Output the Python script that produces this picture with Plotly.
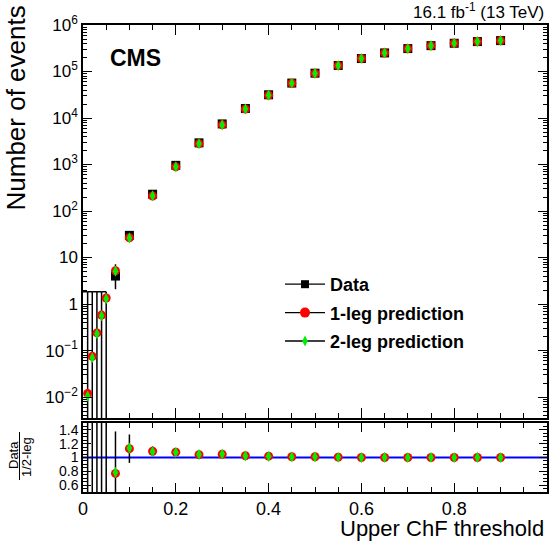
import numpy as np
import plotly.graph_objects as go

# ---------------- data ----------------
threshold = [0.01, 0.02, 0.03, 0.04, 0.05, 0.07, 0.10, 0.15, 0.20, 0.25, 0.30,
             0.35, 0.40, 0.45, 0.50, 0.55, 0.60, 0.65, 0.70, 0.75, 0.80, 0.85, 0.90]
data_events = [0, 0, 0, 0, 0, 4, 30, 230, 960, 2925, 7470,
               16000, 31600, 56400, 92000, 134600, 190000, 251000, 311000, 360000,
               405000, 440000, 462000]
pred_1leg = [0.012, 0.075, 0.24, 0.58, 1.35, 5.2, 26.6, 211, 891, 2810, 7130,
             15600, 31000, 55800, 91000, 134000, 190000, 251000, 311000, 360000,
             405000, 440000, 462000]
pred_2leg = [0.0105, 0.07, 0.23, 0.56, 1.3, 5.1, 26.4, 212, 893, 2800, 7120,
             15650, 31050, 55900, 91100, 134100, 190200, 250800, 311200, 359800,
             405300, 439800, 462300]
# 68% Poisson (Garwood) intervals for small counts
garwood = {0: (0.0, 1.841), 1: (0.173, 3.300), 2: (0.708, 4.638),
           3: (1.367, 5.918), 4: (2.086, 7.163)}

y_main_ticks = [1e-2, 1e-1, 1, 10, 1e2, 1e3, 1e4, 1e5, 1e6]
y_main_text = ["10<sup>−2</sup>", "10<sup>−1</sup>", "1", "10", "10<sup>2</sup>",
               "10<sup>3</sup>", "10<sup>4</sup>", "10<sup>5</sup>", "10<sup>6</sup>"]
y_ratio_ticks = [0.6, 0.8, 1.0, 1.2, 1.4]
y_ratio_text = ["0.6", "0.8", "1", "1.2", "1.4"]
main_range = [-2.45, 6]
ratio_range = [0.5, 1.5]

# ---------------- derived ----------------
x = np.array(threshold)
n = np.array(data_events, dtype=float)
p1 = np.array(pred_1leg)
p2 = np.array(pred_2leg)
err_lo = np.array([v - garwood[int(v)][0] if v in garwood else np.sqrt(v) for v in n])
err_hi = np.array([garwood[int(v)][1] - v if v in garwood else np.sqrt(v) for v in n])
nz = n > 0
zero = ~nz

ratio1 = np.where(nz, n / p1, np.nan)
ratio2 = np.where(nz, n / p2, np.nan)
r_err_lo = err_lo / p1
r_err_hi = err_hi / p1

FONT = "Liberation Sans, Arial, Helvetica, sans-serif"
RED, GREEN, BLUE = "#ff0000", "#00ee00", "#0000ff"

fig = go.Figure()

# zero-count bins: upper Poisson error combs
zx, zy = [], []
prev = [0.0] + threshold[:-1]
for xi, xp, hi in zip(x[zero], np.array(prev)[zero], err_hi[zero]):
    zx += [xi, xi, None, xp, xi, None]
    zy += [10 ** (main_range[0] - 1), hi, None, hi, hi, None]
fig.add_trace(go.Scatter(x=zx, y=zy, mode="lines", line=dict(color="black", width=1.5),
                         showlegend=False, hoverinfo="skip", xaxis="x", yaxis="y"))

# data
fig.add_trace(go.Scatter(
    x=x[nz], y=n[nz], mode="markers",
    marker=dict(symbol="square", size=9, color="black"),
    error_y=dict(type="data", symmetric=False, array=err_hi[nz], arrayminus=err_lo[nz],
                 color="black", thickness=1.5, width=0),
    showlegend=False, xaxis="x", yaxis="y"))
fig.add_trace(go.Scatter(x=x, y=p1, mode="markers",
                         marker=dict(symbol="circle", size=9, color=RED),
                         showlegend=False, xaxis="x", yaxis="y"))
fig.add_trace(go.Scatter(x=x, y=p2, mode="markers",
                         marker=dict(symbol="diamond-tall", size=8, color=GREEN),
                         showlegend=False, xaxis="x", yaxis="y"))

# legend entries
for name, sym, col, sz, grp in [("Data", "square", "black", 8, "a"),
                                ("1-leg prediction", "circle", RED, 10, "b"),
                                ("2-leg prediction", "diamond-tall", GREEN, 8, "c")]:
    fig.add_trace(go.Scatter(x=[None], y=[None], mode="lines+markers", name=name,
                             legendgroup=grp,
                             line=dict(color="black", width=1.3),
                             marker=dict(symbol=sym, size=sz, color=col),
                             xaxis="x", yaxis="y"))

# ratio panel
rx, ry = [], []
for xi in x[zero]:
    rx += [xi, xi, None]
    ry += [ratio_range[0] - 1, ratio_range[1] + 1, None]
fig.add_trace(go.Scatter(x=rx, y=ry, mode="lines", line=dict(color="black", width=1.5),
                         showlegend=False, hoverinfo="skip", xaxis="x2", yaxis="y2"))
fig.add_trace(go.Scatter(
    x=x[nz], y=ratio1[nz], mode="markers",
    marker=dict(symbol="circle", size=9, color=RED),
    error_y=dict(type="data", symmetric=False, array=r_err_hi[nz], arrayminus=r_err_lo[nz],
                 color="black", thickness=1.5, width=0),
    showlegend=False, xaxis="x2", yaxis="y2"))
fig.add_trace(go.Scatter(x=x[nz], y=ratio2[nz], mode="markers",
                         marker=dict(symbol="diamond-tall", size=8, color=GREEN),
                         showlegend=False, xaxis="x2", yaxis="y2"))

fig.add_shape(type="line", xref="x2", yref="y2", x0=0, x1=1, y0=1, y1=1,
              line=dict(color=BLUE, width=2), layer="below")

# ---------------- layout ----------------
W, H = 551, 554
ML, MT = 83, 25
MR = W - 547
MB = H - 492
PW, PH = W - ML - MR, H - MT - MB


def px_x(p):
    return (p - ML) / PW


def px_y(p):
    return (H - MB - p) / PH


axis_common = dict(showline=True, linecolor="black", linewidth=1.5, mirror="allticks",
                   ticks="inside", tickcolor="black", showgrid=False, zeroline=False)

fig.update_layout(
    width=W, height=H, margin=dict(l=ML, r=MR, t=MT, b=MB, autoexpand=False),
    paper_bgcolor="white", plot_bgcolor="white",
    font=dict(family=FONT, color="black", size=17),
    xaxis=dict(range=[0, 1], anchor="y", showticklabels=False, dtick=0.2, tick0=0,
               ticklen=10, minor=dict(dtick=0.05, ticks="inside", ticklen=5, tickcolor="black"),
               **axis_common),
    xaxis2=dict(range=[0, 1], anchor="y2", matches="x", dtick=0.2, tick0=0, ticklen=9,
                tickfont=dict(size=18),
                minor=dict(dtick=0.05, ticks="inside", ticklen=5, tickcolor="black"),
                **axis_common),
    yaxis=dict(type="log", range=main_range, domain=[px_y(418), 1], anchor="x",
               tickmode="array", tickvals=y_main_ticks, ticktext=y_main_text, ticklen=9,
               tickfont=dict(size=17),
               minor=dict(dtick="D1", ticks="inside", ticklen=4, tickcolor="black"),
               **axis_common),
    yaxis2=dict(range=ratio_range, domain=[0, px_y(423)], anchor="x2",
                tickmode="array", tickvals=y_ratio_ticks, ticktext=y_ratio_text, ticklen=8,
                tickfont=dict(size=14),
                minor=dict(dtick=0.05, ticks="inside", ticklen=4, tickcolor="black"),
                **axis_common),
    legend=dict(x=px_x(280), y=px_y(266), xanchor="left", yanchor="top",
                bgcolor="rgba(0,0,0,0)", borderwidth=0, tracegroupgap=2,
                font=dict(size=18, family=FONT, weight="bold"), itemwidth=40),
    showlegend=True,
)

fig.add_annotation(text="<b>CMS</b>", x=px_x(108), y=px_y(58), xref="paper", yref="paper",
                   xanchor="left", yanchor="middle", showarrow=False, font=dict(size=23))
fig.add_annotation(text="16.1 fb<sup>-1</sup> (13 TeV)", x=px_x(546), y=px_y(11),
                   xref="paper", yref="paper", xanchor="right", yanchor="middle",
                   showarrow=False, font=dict(size=17))
fig.add_annotation(text="Number of events", textangle=-90, x=px_x(15), y=px_y(4),
                   xref="paper", yref="paper", xanchor="center", yanchor="top",
                   showarrow=False, font=dict(size=26))
fig.add_annotation(text="Upper ChF threshold", x=px_x(546), y=px_y(528),
                   xref="paper", yref="paper", xanchor="right", yanchor="middle",
                   showarrow=False, font=dict(size=22))
fig.add_annotation(text="Data", textangle=-90, x=px_x(13), y=px_y(455),
                   xref="paper", yref="paper", xanchor="center", yanchor="middle",
                   showarrow=False, font=dict(size=13))
fig.add_annotation(text="1/2-leg", textangle=-90, x=px_x(26), y=px_y(457),
                   xref="paper", yref="paper", xanchor="center", yanchor="middle",
                   showarrow=False, font=dict(size=13))
fig.add_shape(type="line", xref="paper", yref="paper", x0=px_x(19.5), x1=px_x(19.5),
              y0=px_y(432), y1=px_y(480), line=dict(color="black", width=1))

# remove the default 8 px page margin so the 551x554 figure fills the window
fig.write_html("out.html", config={"displayModeBar": False},
               post_script="document.body.style.margin='0px';")
